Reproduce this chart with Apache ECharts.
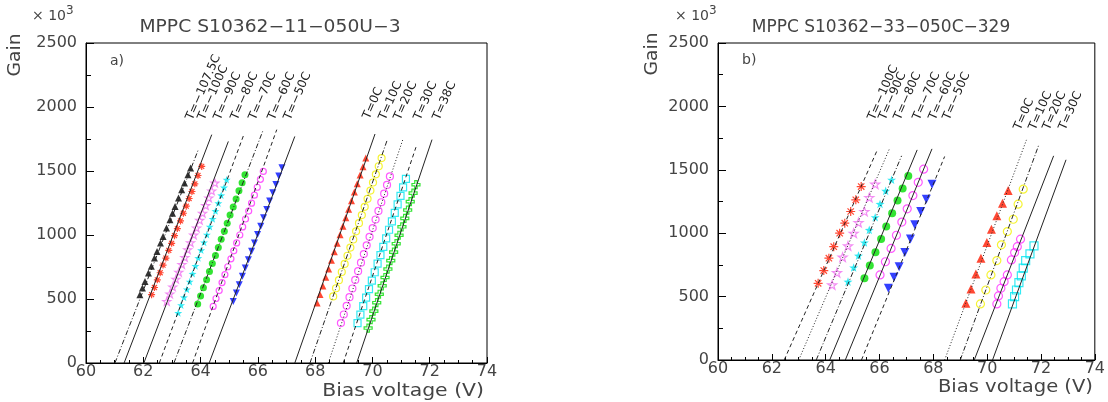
<!DOCTYPE html>
<html><head><meta charset="utf-8">
<script src="https://cdn.jsdelivr.net/npm/echarts@6/dist/echarts.min.js"></script>
<style>html,body{margin:0;padding:0;background:#fff}#c{width:1108px;height:402px}</style>
</head><body><div id="c"></div>
<script>
// ---------------- data ----------------
const xTickInterval = 2, xMin = 60, xMax = 74;
const yTickInterval = 500, yMin = 0, yMax = 2500;
const titleA = 'MPPC S10362\u221211\u2212050U\u22123';
const titleB = 'MPPC S10362\u221233\u2212050C\u2212329';
const xName = 'Bias voltage (V)';
const yName = 'Gain';

// panel a) markers
const a107_V = [61.88,61.97,62.06,62.18,62.28,62.39,62.48,62.60,62.69,62.81,62.93,63.02,63.11,63.23,63.34,63.44,63.56,63.65];
const a107_G = [534,586,637,703,755,820,872,938,989,1055,1120,1170,1223,1289,1354,1406,1471,1523];
const a100_V = [62.29,62.39,62.49,62.59,62.69,62.79,62.89,62.99,63.09,63.19,63.30,63.40,63.50,63.60,63.70,63.80,63.91,64.04];
const a100_G = [534,590,650,705,765,820,880,935,995,1050,1110,1170,1225,1285,1340,1400,1465,1536];
const a90_V = [62.82,62.93,63.03,63.14,63.24,63.35,63.45,63.55,63.65,63.76,63.86,63.97,64.07,64.18,64.29,64.39,64.50];
const a90_G = [481,540,595,655,710,770,825,885,940,1000,1055,1115,1170,1230,1290,1345,1406];
const a80_V = [63.22,63.32,63.42,63.52,63.62,63.72,63.82,63.92,64.02,64.12,64.22,64.32,64.42,64.52,64.62,64.72,64.82,64.91];
const a80_G = [391,452,513,575,636,697,758,820,881,942,1003,1065,1126,1187,1248,1310,1371,1432];
const a70_V = [63.90,64.00,64.10,64.21,64.31,64.41,64.52,64.62,64.72,64.83,64.93,65.03,65.14,65.24,65.34,65.45,65.55];
const a70_G = [461,524,587,650,714,777,840,903,966,1029,1092,1156,1219,1282,1345,1408,1471];
const a60_V = [64.44,64.54,64.65,64.75,64.85,64.95,65.06,65.16,65.26,65.37,65.47,65.57,65.68,65.78,65.88,65.98,66.09,66.19];
const a60_G = [442,504,566,628,690,752,814,876,938,1000,1063,1125,1187,1249,1311,1373,1435,1497];
const a50_V = [65.14,65.25,65.35,65.46,65.56,65.67,65.78,65.88,65.99,66.10,66.20,66.31,66.41,66.52,66.63,66.73,66.84];
const a50_G = [481,546,611,677,742,807,873,938,1003,1069,1134,1199,1265,1330,1395,1461,1526];
const a0_V = [68.07,68.17,68.27,68.37,68.47,68.57,68.67,68.77,68.87,68.97,69.07,69.17,69.27,69.37,69.47,69.57,69.67,69.77];
const a0_G = [469,536,602,669,735,802,869,935,1002,1068,1135,1202,1268,1335,1401,1468,1534,1601];
const a10_V = [68.63,68.73,68.83,68.93,69.03,69.13,69.23,69.33,69.43,69.53,69.63,69.73,69.83,69.93,70.02,70.12,70.22,70.32];
const a10_G = [520,584,647,711,774,838,902,965,1029,1092,1156,1220,1283,1347,1410,1474,1537,1601];
const a20_V = [68.90,69.00,69.10,69.20,69.30,69.40,69.50,69.60,69.70,69.80,69.90,70.01,70.11,70.21,70.31,70.41,70.51,70.61];
const a20_G = [312,379,447,514,582,649,717,784,851,919,986,1054,1121,1188,1256,1323,1391,1458];
const a30_V = [69.48,69.58,69.68,69.78,69.88,69.98,70.08,70.18,70.28,70.38,70.48,70.58,70.68,70.78,70.88,70.98,71.07,71.17];
const a30_G = [312,378,444,511,577,643,709,776,842,908,974,1041,1107,1173,1239,1306,1372,1438];
const a38_V = [69.85,69.95,70.05,70.15,70.24,70.34,70.44,70.54,70.64,70.74,70.83,70.93,71.03,71.13,71.23,71.32,71.42,71.52];
const a38_G = [273,339,405,471,537,603,668,734,800,866,932,998,1064,1130,1195,1261,1327,1393];

// panel b) markers
const b100_V = [63.72,63.93,64.12,64.30,64.52,64.71,64.93,65.12,65.32];
const b100_G = [605,705,803,894,1000,1079,1171,1263,1368];
const b90_V = [64.24,64.42,64.63,64.83,65.04,65.22,65.44,65.62,65.84];
const b90_G = [592,689,811,900,1000,1084,1171,1281,1387];
const b80_V = [64.83,65.04,65.22,65.44,65.62,65.84,66.02,66.23,66.45];
const b80_G = [618,729,823,926,1026,1126,1231,1334,1421];
const b70_V = [65.44,65.64,65.85,66.06,66.25,66.47,66.67,66.86,67.07];
const b70_G = [645,745,850,955,1052,1158,1258,1352,1452];
const b60_V = [66.02,66.22,66.43,66.63,66.83,67.03,67.24,67.44,67.64];
const b60_G = [671,775,880,984,1088,1192,1297,1401,1505];
const b50_V = [66.33,66.54,66.73,66.94,67.15,67.31,67.53,67.74,67.95];
const b50_G = [566,653,736,847,955,1066,1171,1268,1387];
const b0_V = [69.21,69.40,69.58,69.77,69.99,70.16,70.36,70.57,70.78];
const b0_G = [447,560,679,803,926,1032,1137,1237,1336];
const b10_V = [69.75,69.95,70.14,70.36,70.53,70.75,70.97,71.15,71.34];
const b10_G = [442,552,671,784,908,1013,1110,1229,1347];
const b20_V = [70.36,70.42,70.51,70.63,70.75,70.90,71.02,71.12,71.24];
const b20_G = [442,505,566,618,671,789,847,894,953];
const b30_V = [70.94,71.02,71.09,71.18,71.27,71.34,71.43,71.59,71.74];
const b30_G = [442,500,552,610,663,724,784,837,900];

// fitted lines: start voltage at gain 0, end voltage, end gain
const aFitV0 = [61.01,61.33,62.02,62.56,63.07,63.72,64.30,67.29,67.82,68.46,68.98,69.45];
const aFitV1 = [63.92,64.39,64.97,65.51,66.19,66.66,67.29,70.09,70.52,71.06,71.52,72.08];
const aFitG1 = [1666,1784,1731,1784,1823,1823,1770,1789,1745,1745,1686,1745];
const bFitV0 = [62.46,63.00,63.65,64.15,64.73,65.33,68.42,69.00,69.52,70.20];
const bFitV1 = [65.92,66.38,66.82,67.40,67.95,68.42,71.46,71.92,72.47,72.93];
const bFitG1 = [1657,1671,1610,1657,1665,1605,1736,1697,1610,1579];

// temperature labels
const aLabels = ['T=\u2212107.5C','T=\u2212100C','T=\u221290C','T=\u221280C','T=\u221270C','T=\u221260C','T=\u221250C','T=0C','T=10C','T=20C','T=30C','T=38C'];
const bLabels = ['T=\u2212100C','T=\u221290C','T=\u221280C','T=\u221270C','T=\u221260C','T=\u221250C','T=0C','T=10C','T=20C','T=30C'];

// ---------------- layout / styles ----------------
const FONT = '"DejaVu Sans", sans-serif';
const aLabelPos = [[195,122],[207,122],[223,122],[240,122],[258,122],[277,122],[293,122],[372,121],[388,122],[403,122],[423,122],[442,122]];
const bLabelPos = [[877,122],[888,122],[903,122],[922,122],[938,122],[952,122],[1023,132],[1038,132],[1052,132],[1068,132]];
const aFitStyle = ['dashdot','solid','solid','dashed','dashdot','dashed','solid','solid','dashdot','dotted','dashed','solid'];
const bFitStyle = ['dashed','dotted','dashdot','solid','solid','dashed','dotted','dashdot','solid','solid'];
const DASH = {solid:'solid', dashed:[4,3], dotted:[1,2], dashdot:[5,2,1,2]};

const STAR = 'path://M0,-10L2.35,-3.24L9.51,-3.09L3.8,1.24L5.88,8.09L0,4L-5.88,8.09L-3.8,1.24L-9.51,-3.09L-2.35,-3.24Z';
const ASTER = 'path://M0,-10L0,10M-10,0L10,0M-7.07,-7.07L7.07,7.07M-7.07,7.07L7.07,-7.07';
const CROSS = 'path://M-3,-10L3,-10L3,-3L10,-3L10,3L3,3L3,10L-3,10L-3,3L-10,3L-10,-3L-3,-3Z';

const RED='#ff1a00', GREEN='#00dd00', BLUE='#0010ff', CYAN='#00e5f0', MAG='#ff30ff', PINK='#f070f0', YEL='#f2f000';

function pts(xs, ys){ return xs.map((x,i)=>[x, ys[i]]); }
function marker(gi, xs, ys, symbol, size, color, filled, rot){
  return {type:'scatter', xAxisIndex:gi, yAxisIndex:gi, data:pts(xs,ys), symbol, symbolSize:size,
    symbolRotate: rot||0, symbolKeepAspect:true, z:2, silent:true,
    itemStyle: filled ? {color, borderWidth:0} : {color:'rgba(0,0,0,0)', borderColor:color, borderWidth:1.2}};
}
function fit(gi, v0, v1, g1, style){
  return {type:'line', xAxisIndex:gi, yAxisIndex:gi, data:[[v0,0],[v1,g1]], showSymbol:false, symbol:'none', z:3, silent:true,
    lineStyle:{color:'#222', width:1, type:DASH[style]}};
}

const series = [
  marker(0,a107_V,a107_G,'triangle',7,'#000',true),
  marker(0,a100_V,a100_G,ASTER,7,RED,false),
  marker(0,a90_V,a90_G,STAR,8,PINK,false),
  marker(0,a80_V,a80_G,STAR,8,CYAN,true),
  marker(0,a70_V,a70_G,'circle',7,GREEN,true),
  marker(0,a60_V,a60_G,'circle',6,MAG,false),
  marker(0,a50_V,a50_G,'triangle',7,BLUE,true,180),
  marker(0,a0_V,a0_G,'triangle',7,RED,true),
  marker(0,a10_V,a10_G,'circle',7,YEL,false),
  marker(0,a20_V,a20_G,'circle',7,MAG,false),
  marker(0,a30_V,a30_G,'rect',7,CYAN,false),
  marker(0,a38_V,a38_G,CROSS,8,GREEN,false),
  marker(1,b100_V,b100_G,ASTER,9,RED,false),
  marker(1,b90_V,b90_G,STAR,9,PINK,false),
  marker(1,b80_V,b80_G,STAR,9,CYAN,true),
  marker(1,b70_V,b70_G,'circle',8,GREEN,true),
  marker(1,b60_V,b60_G,'circle',8,MAG,false),
  marker(1,b50_V,b50_G,'triangle',9,BLUE,true,180),
  marker(1,b0_V,b0_G,'triangle',9,RED,true),
  marker(1,b10_V,b10_G,'circle',8,YEL,false),
  marker(1,b20_V,b20_G,'circle',8,MAG,false),
  marker(1,b30_V,b30_G,'rect',8,CYAN,false)
];
aFitV0.forEach((v,i)=>series.push(fit(0,v,aFitV1[i],aFitG1[i],aFitStyle[i])));
bFitV0.forEach((v,i)=>series.push(fit(1,v,bFitV1[i],bFitG1[i],bFitStyle[i])));

const plain = v => String(v);
function xAxis(gi){
  return {type:'value', gridIndex:gi, min:xMin, max:xMax, interval:xTickInterval,
    axisLine:{show:true, lineStyle:{color:'#000', width:1}},
    axisTick:{show:true, inside:true, length:6, lineStyle:{color:'#000'}},
    minorTick:{show:true, splitNumber:4, length:3, lineStyle:{color:'#000'}},
    splitLine:{show:false}, minorSplitLine:{show:false},
    axisLabel:{fontFamily:FONT, fontSize:16, color:'#444', margin:1, formatter:plain, showMinLabel:true, showMaxLabel:true}};
}
function yAxis(gi){
  return {type:'value', gridIndex:gi, min:yMin, max:yMax, interval:yTickInterval,
    axisLine:{show:true, lineStyle:{color:'#000', width:1}},
    axisTick:{show:true, inside:true, length:8, lineStyle:{color:'#000'}},
    minorTick:{show:true, splitNumber:2, length:5, lineStyle:{color:'#000'}},
    splitLine:{show:false}, minorSplitLine:{show:false},
    axisLabel:{fontFamily:FONT, fontSize:16, color:'#444', margin:9, formatter:plain, showMinLabel:true, showMaxLabel:true}};
}

function txt(x, y, text, size, opts){
  opts = opts || {};
  return {type:'text', x, y, rotation:opts.rot||0, scaleX:opts.sx||1, silent:true, z:10,
    style:{text, font:(size)+'px '+FONT, fill:opts.fill||'#444',
      align:opts.align||'left', textAlign:opts.align||'left',
      verticalAlign:opts.va||'middle', textVerticalAlign:opts.va||'middle'}};
}

const ROT = 66.5*Math.PI/180;
const graphic = [
  txt(270,28,titleA,17,{align:'center',sx:1.1}),
  txt(881,28,titleB,17,{align:'center',sx:1.0}),
  txt(32,16,'\u00d7 10',14),
  txt(66,11,'3',12),
  txt(675,16,'\u00d7 10',14),
  txt(709,11,'3',12),
  txt(16,55,yName,17,{align:'center',rot:Math.PI/2,sx:1.1}),
  txt(653,54,yName,17,{align:'center',rot:Math.PI/2,sx:1.1}),
  txt(484,392,xName,17,{align:'right',sx:1.2}),
  txt(1093,388,xName,17,{align:'right',sx:1.15}),
  txt(110,61,'a)',14),
  txt(742,60,'b)',14)
];
aLabels.forEach((t,i)=>graphic.push(txt(aLabelPos[i][0],aLabelPos[i][1],t,12,{rot:ROT,va:'bottom',fill:'#222'})));
bLabels.forEach((t,i)=>graphic.push(txt(bLabelPos[i][0],bLabelPos[i][1],t,12,{rot:ROT,va:'bottom',fill:'#222'})));

const chart = echarts.init(document.getElementById('c'), null, {renderer:'canvas'});
chart.setOption({
  animation:false,
  backgroundColor:'#fff',
  grid:[
    {left:86, top:43, width:401, height:320, show:true, borderColor:'#000', borderWidth:1, backgroundColor:'transparent'},
    {left:718, top:43, width:380, height:317, show:true, borderColor:'#000', borderWidth:1, backgroundColor:'transparent'}
  ],
  xAxis:[xAxis(0), xAxis(1)],
  yAxis:[yAxis(0), yAxis(1)],
  series,
  graphic
});
</script></body></html>
